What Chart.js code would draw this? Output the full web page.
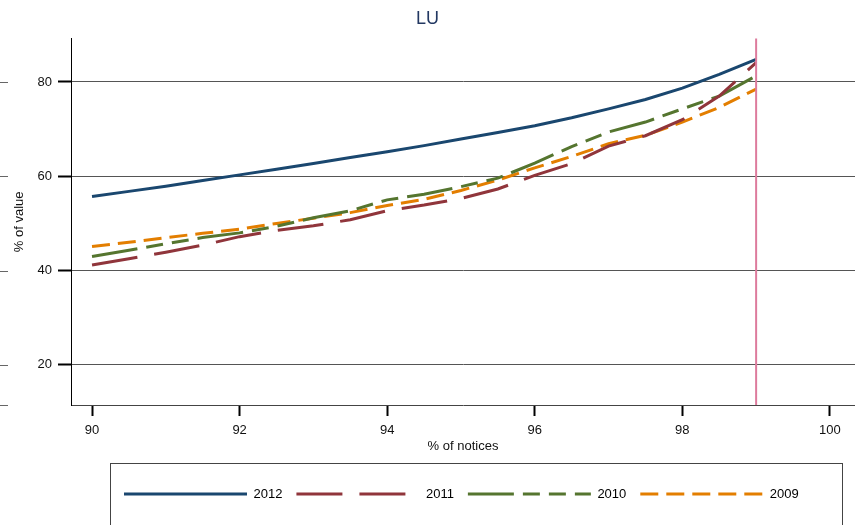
<!DOCTYPE html>
<html>
<head>
<meta charset="utf-8">
<script src="https://cdn.jsdelivr.net/npm/chart.js@4/dist/chart.umd.min.js"></script>
<style>
  html, body { margin: 0; padding: 0; background: #fff; }
  #wrap { width: 855px; height: 525px; }
</style>
</head>
<body>
<div id="wrap"><canvas id="luChart"></canvas></div>
<script>
// % of notices on the x axis
const notices = [90, 90.5, 91, 91.5, 92, 92.5, 93, 93.5, 94, 94.5, 95, 95.5, 96, 96.5, 97, 97.5, 98, 98.5, 99];

// % of value, one list per year
const value2012 = [55.7, 56.8, 57.9, 59.1, 60.3, 61.5, 62.7, 64.0, 65.2, 66.5, 67.9, 69.3, 70.7, 72.4, 74.3, 76.3, 78.7, 81.6, 84.8];
const value2011 = [41.2, 42.5, 43.9, 45.4, 47.2, 48.5, 49.5, 50.8, 52.7, 53.9, 55.3, 57.3, 60.2, 62.7, 66.4, 68.6, 72.0, 77.0, 84.1];
const value2010 = [43.0, 44.3, 45.7, 47.0, 48.0, 49.4, 51.2, 52.7, 55.0, 56.2, 57.8, 59.6, 62.8, 66.3, 69.4, 71.5, 74.3, 77.0, 81.3];
const value2009 = [45.1, 46.0, 47.0, 47.9, 48.8, 50.0, 51.1, 52.3, 53.8, 55.1, 57.0, 59.2, 61.8, 64.2, 66.9, 68.7, 71.5, 74.6, 78.5];

const years = ['2012', '2011', '2010', '2009'];
const xTicks = [90, 92, 94, 96, 98, 100];
const yTicks = [20, 40, 60, 80];
const cutoff = 99;

const font = "'Liberation Sans', Arial, sans-serif";

function toPoints(values) {
    var pts = [];
    for (var i = 0; i < notices.length; i++) {
        pts.push({ x: notices[i], y: values[i] });
    }
    return pts;
}

function series(label, values, color, dash) {
    return {
        label: label,
        data: toPoints(values),
        borderColor: color,
        backgroundColor: color,
        borderWidth: 3,
        borderDash: dash,
        borderCapStyle: 'butt',
        pointRadius: 0,
        pointHoverRadius: 0,
        pointRotation: 180,
        tension: 0,
        fill: false
    };
}

// legend samples keep the dash pattern of their line
function legendLabels(chart) {
    var items = Chart.defaults.plugins.legend.labels.generateLabels(chart);
    items.forEach(function (item) {
        var ds = chart.data.datasets[item.datasetIndex];
        item.lineDash = ds.borderDash;
        item.lineWidth = ds.borderWidth;
        item.strokeStyle = ds.borderColor;
    });
    return items;
}

// vertical marker, left stubs and legend frame
const extras = {
    id: 'extras',
    afterLayout(chart) {
        chart.legend.left = 110;
        chart.legend.right = 842;
    },
    afterDatasetsDraw(chart) {
        const ctx = chart.ctx;
        const area = chart.chartArea;
        const x = chart.scales.x.getPixelForValue(cutoff);
        ctx.save();
        ctx.strokeStyle = '#dd7b9d';
        ctx.lineWidth = 2;
        ctx.beginPath();
        ctx.moveTo(x, area.top);
        ctx.lineTo(x, area.bottom);
        ctx.stroke();
        ctx.restore();
    },
    afterDraw(chart) {
        const ctx = chart.ctx;
        const y = chart.scales.y;
        const lg = chart.legend;
        ctx.save();
        ctx.strokeStyle = '#666';
        ctx.lineWidth = 1;
        const stubs = yTicks.map(v => Math.round(y.getPixelForValue(v)) + 0.5);
        stubs.push(Math.round(chart.chartArea.bottom) + 0.5);
        stubs.forEach(py => {
            ctx.beginPath();
            ctx.moveTo(0, py);
            ctx.lineTo(8, py);
            ctx.stroke();
        });
        ctx.strokeStyle = '#444';
        ctx.strokeRect(lg.left + 0.5, 463.5, lg.right - lg.left, 80);
        ctx.restore();
    }
};

new Chart(document.getElementById('luChart'), {
    type: 'line',
    data: {
        datasets: [
            series(years[0], value2012, '#1a476f', []),
            series(years[1], value2011, '#90353b', [46, 17]),
            series(years[2], value2010, '#55752f', [46, 9, 17, 9, 17, 9]),
            series(years[3], value2009, '#e37e00', [18, 8])
        ]
    },
    options: {
        responsive: true,
        maintainAspectRatio: false,
        animation: false,
        events: [],
        layout: { padding: { left: 0, right: 0, top: 0, bottom: 14.5 } },
        plugins: {
            title: {
                display: true,
                text: 'LU',
                color: '#233862',
                font: { family: font, size: 18, weight: 'normal' },
                padding: { top: 8, bottom: 9 }
            },
            legend: {
                position: 'bottom',
                align: 'start',
                labels: {
                    usePointStyle: true,
                    pointStyle: 'line',
                    pointStyleWidth: 123,
                    boxHeight: 13,
                    padding: 14,
                    color: '#000',
                    font: { family: font, size: 13 },
                    generateLabels: legendLabels
                }
            },
            tooltip: { enabled: false }
        },
        scales: {
            x: {
                type: 'linear',
                min: 89.715,
                max: 100.34,
                afterBuildTicks: s => { s.ticks = xTicks.map(v => ({ value: v })); },
                afterFit: s => { s.height = 68.5; },
                grid: {
                    drawOnChartArea: false,
                    drawTicks: true,
                    tickLength: 11,
                    tickWidth: 2,
                    tickColor: '#000'
                },
                border: { color: '#444', width: 1 },
                ticks: {
                    color: '#111',
                    padding: 7,
                    maxRotation: 0,
                    font: { family: font, size: 13 }
                },
                title: {
                    display: true,
                    text: '% of notices',
                    color: '#111',
                    font: { family: font, size: 13 },
                    padding: { top: 0, bottom: 19.7 }
                }
            },
            y: {
                min: 11.5,
                max: 89.2,
                afterBuildTicks: s => { s.ticks = yTicks.map(v => ({ value: v })); },
                afterFit: s => { s.width = 71; },
                grid: {
                    color: '#555',
                    lineWidth: 1,
                    drawTicks: true,
                    tickLength: 13,
                    tickWidth: 2,
                    tickColor: '#000'
                },
                border: { color: '#000', width: 1 },
                ticks: {
                    color: '#111',
                    padding: 6,
                    font: { family: font, size: 13 }
                },
                title: {
                    display: true,
                    text: '% of value',
                    color: '#111',
                    font: { family: font, size: 13 },
                    padding: { top: 12, bottom: 0 }
                }
            }
        }
    },
    plugins: [extras]
});
</script>
</body>
</html>
